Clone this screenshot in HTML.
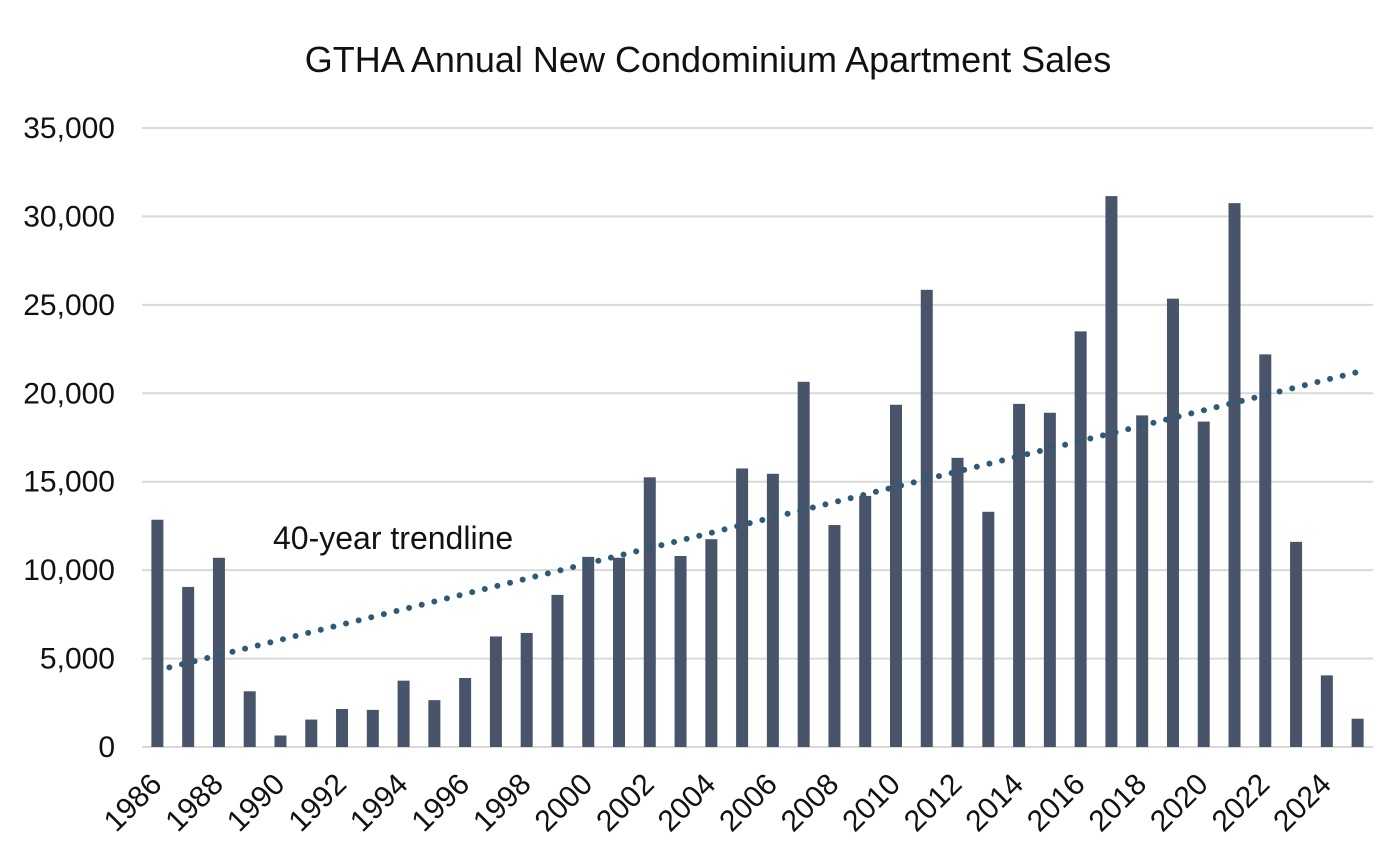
<!DOCTYPE html>
<html><head><meta charset="utf-8">
<style>
body{margin:0;background:#fff;}
svg{display:block;font-family:"Liberation Sans",Arial,sans-serif;}
</style></head>
<body>
<svg id="chart" width="1394" height="852">
<text x="708" y="72" text-anchor="middle" font-size="36" fill="#111">GTHA Annual New Condominium Apartment Sales</text>
<g id="grid"></g><g id="bars"></g><g id="trend"></g><g id="xlabels"></g><g id="ylabels"></g>
<text x="273" y="549" font-size="32" fill="#111">40-year trendline</text>
</svg>
<script>
const years=[];for(let y=1986;y<=2025;y++)years.push(y);
const sales=[12850,9050,10700,3150,650,1550,2150,2100,3750,2650,3900,6250,6450,8600,10750,10700,15250,10800,11750,15750,15450,20650,12550,14200,19350,25850,16350,13300,19400,18900,23500,31150,18750,25350,18400,30750,22200,11600,4050,1600];
const yTicks=[0,5000,10000,15000,20000,25000,30000,35000];
const trendStart=4500, trendEnd=21200;
const NS="http://www.w3.org/2000/svg";
const x0=142,x1=1373,yBase=747,yTop=128,yMax=35000;
const bw=(x1-x0)/years.length;
const yS=v=>yBase-(v/yMax)*(yBase-yTop);
const xC=i=>x0+bw*(i+0.5);
function mk(t,a,p){const e=document.createElementNS(NS,t);for(const k in a)e.setAttribute(k,a[k]);p.appendChild(e);return e;}
const grid=document.getElementById('grid'),yl=document.getElementById('ylabels');
yTicks.forEach(v=>{
 const l=mk('line',{x1:x0,x2:x1,y1:yS(v),y2:yS(v),stroke:'#d9d9d9','stroke-width':2},grid);
 
 
 const t=mk('text',{x:115,y:yS(v)+10,'text-anchor':'end','font-size':30,fill:'#111'},yl);
 t.textContent=v.toLocaleString('en-US');
 
 
});
const bars=document.getElementById('bars'),xl=document.getElementById('xlabels');
sales.forEach((v,i)=>{
 const r=mk('rect',{x:xC(i)-6,y:yS(v),width:12,height:yBase-yS(v),fill:'#475469'},bars);
 
 
 if(i%2===0){
  const cx=xC(i)+6,cy=786;
  const t=mk('text',{x:cx,y:cy,'text-anchor':'end','font-size':30,fill:'#111',transform:`rotate(-45 ${cx} ${cy})`},xl);
  t.textContent=years[i];
  
  
 }
});
const tl=mk('line',{x1:xC(0)+12,y1:yS(trendStart),x2:xC(years.length-1),y2:yS(trendEnd),stroke:'#2e5a78','stroke-width':6,'stroke-linecap':'round','stroke-dasharray':'0 13'},document.getElementById('trend'));


</script>
</body></html>
